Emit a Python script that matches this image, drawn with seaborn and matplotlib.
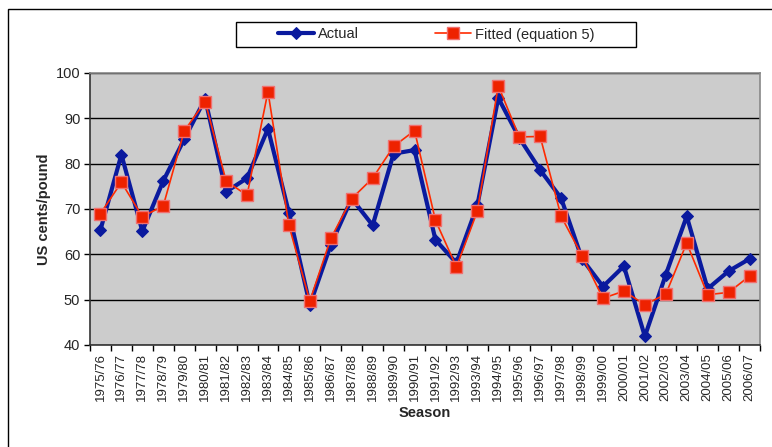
import numpy as np
import pandas as pd
import matplotlib
matplotlib.use("Agg")
import matplotlib.pyplot as plt
import seaborn as sns
from matplotlib.patches import Rectangle
from matplotlib.ticker import FixedLocator

seasons = ["1975/76", "1976/77", "1977/78", "1978/79", "1979/80", "1980/81",
           "1981/82", "1982/83", "1983/84", "1984/85", "1985/86", "1986/87",
           "1987/88", "1988/89", "1989/90", "1990/91", "1991/92", "1992/93",
           "1993/94", "1994/95", "1995/96", "1996/97", "1997/98", "1998/99",
           "1999/00", "2000/01", "2001/02", "2002/03", "2003/04", "2004/05",
           "2005/06", "2006/07"]
actual = [65.4, 82.0, 65.1, 76.2, 85.4, 94.3, 73.8, 76.8, 87.7, 69.2, 48.8,
          62.1, 72.3, 66.4, 82.2, 83.0, 63.2, 58.1, 70.8, 94.5, 85.7, 78.6,
          72.4, 59.0, 52.9, 57.4, 41.9, 55.5, 68.4, 52.4, 56.3, 59.0]
fitted = [69.0, 75.9, 68.3, 70.7, 87.2, 93.7, 76.2, 73.0, 95.9, 66.4, 49.7,
          63.5, 72.3, 76.8, 83.8, 87.3, 67.5, 57.2, 69.5, 97.2, 85.9, 86.0,
          68.4, 59.7, 50.3, 51.9, 48.9, 51.2, 62.5, 51.1, 51.6, 55.2]
yticks = [40, 50, 60, 70, 80, 90, 100]

df = pd.DataFrame({"pos": np.arange(len(seasons)), "Season": seasons,
                   "Actual": actual, "Fitted (equation 5)": fitted})

sns.set_theme(style="white")
plt.rcParams["font.family"] = ["Liberation Sans", "DejaVu Sans"]

fig = plt.figure(figsize=(7.72, 4.47), dpi=100)
W, H = 772, 447
# outer chart-area frame (left and top edges visible)
fig.patches.append(Rectangle((8 / W, -0.1), 1.2, 1.1 - 9 / H, transform=fig.transFigure,
                             fill=False, edgecolor="black", linewidth=1.0, zorder=-2))
# legend box
fig.patches.append(Rectangle((236 / W, 1 - 47 / H), 400 / W, 25 / H,
                             transform=fig.transFigure, facecolor="white",
                             edgecolor="black", linewidth=1.0, zorder=-1))

ax = fig.add_axes([90 / W, 1 - 345 / H, 670 / W, (345 - 73) / H])
ax.set_facecolor("#CCCCCC")

sns.lineplot(data=df, x="pos", y="Actual", ax=ax, color="#0A1A9E", linewidth=3.0,
             marker="D", markersize=6, markeredgecolor="#0A1A9E",
             markerfacecolor="#0A1A9E", label="Actual", sort=False)
sns.lineplot(data=df, x="pos", y="Fitted (equation 5)", ax=ax, color="#FF2A00",
             linewidth=1.2, marker="s", markersize=8, markeredgecolor="#F07070",
             markerfacecolor="#EE2200", markeredgewidth=1.0,
             label="Fitted (equation 5)", sort=False)

ax.set_xlim(-0.5, len(seasons) - 0.5)
ax.set_ylim(40, 100)
ax.set_yticks(yticks)
ax.set_yticklabels([str(v) for v in yticks], fontsize=10.5)
ax.yaxis.grid(True, color="black", linewidth=1.0)
ax.set_axisbelow(True)
ax.set_xticks(df["pos"])
ax.set_xticklabels(seasons, rotation=90, fontsize=9.5)
ax.tick_params(axis="x", which="major", length=0, pad=6)
ax.xaxis.set_minor_locator(FixedLocator(np.arange(len(seasons) + 1) - 0.5))
ax.tick_params(axis="x", which="minor", length=4, width=1, color="black",
               direction="out", bottom=True)
ax.tick_params(axis="y", which="major", length=4, width=1, color="black",
               direction="out", left=True, pad=3)

for s in ["left", "bottom"]:
    ax.spines[s].set_color("#333333")
    ax.spines[s].set_linewidth(1.2)
for s in ["top", "right"]:
    ax.spines[s].set_color("#888888")
    ax.spines[s].set_linewidth(1.2)

ax.set_xlabel("Season", fontsize=10.5, fontweight="bold", labelpad=3)
ax.set_ylabel("US cents/pound", fontsize=10.5, fontweight="bold", labelpad=3)

leg = ax.legend(loc="center", bbox_to_anchor=(436 / W, 1 - 34.5 / H),
                bbox_transform=fig.transFigure, ncol=2, frameon=False,
                fontsize=10.5, handlelength=2.5, columnspacing=5.2,
                borderpad=0.3, handletextpad=0.25)

fig.savefig("out.png", dpi=100)
